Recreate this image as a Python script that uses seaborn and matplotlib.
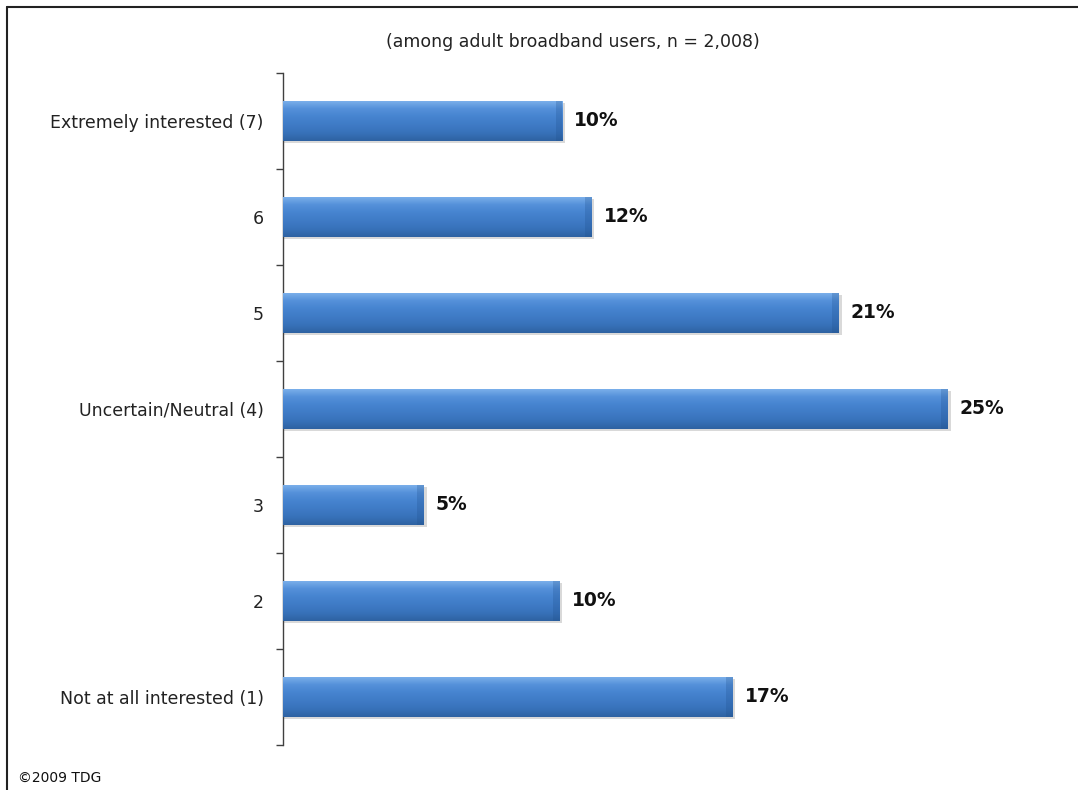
import matplotlib
matplotlib.use("Agg")
import matplotlib.pyplot as plt
import numpy as np
import pandas as pd
import seaborn as sns
from matplotlib.lines import Line2D
from matplotlib.colors import LinearSegmentedColormap

categories = ["Extremely interested (7)", "6", "5", "Uncertain/Neutral (4)",
              "3", "2", "Not at all interested (1)"]
values = [10.5, 11.6, 20.9, 25.0, 5.3, 10.4, 16.9]
value_labels = ["10%", "12%", "21%", "25%", "5%", "10%", "17%"]
title = "(among adult broadband users, n = 2,008)"
credit = "\u00a92009 TDG"

sns.set_theme(style="white")
plt.rcParams['font.family'] = ['DejaVu Sans']

df = pd.DataFrame({"cat": categories, "val": values})

fig = plt.figure(figsize=(10.78, 7.90), dpi=100)
ax = fig.add_axes([283 / 1078, 1 - 745 / 790, 720 / 1078, (745 - 73) / 790])

sns.barplot(data=df, y="cat", x="val", order=categories, orient="h",
            color="#3C78C3", width=0.42, ax=ax, saturation=1, linewidth=0,
            edgecolor="none")

ax.set_xlim(0, 720 / 26.6)
ax.set_ylim(len(categories) - 0.5, -0.5)

grad = np.linspace(0, 1, 64).reshape(-1, 1)
cmap = LinearSegmentedColormap.from_list(
    "bar", ["#7FB2EC", "#5591DA", "#4684D0", "#3F7BC6", "#3872BA", "#2E62A2"])
for p, lab in zip(ax.patches, value_labels):
    x0, y0 = p.get_x(), p.get_y()
    w, h = p.get_width(), p.get_height()
    ax.add_patch(plt.Rectangle((x0, y0 + h * 0.05), w + 0.1, h, color="#000000",
                               alpha=0.15, zorder=1, lw=0))
    p.set_zorder(2)
    im = ax.imshow(grad, extent=[x0, x0 + w, y0 + h, y0], aspect="auto",
                   cmap=cmap, zorder=3, interpolation="bicubic")
    im.set_clip_path(p)
    ax.add_patch(plt.Rectangle((x0 + w - 0.25, y0), 0.25, h, color="#1F4F8C",
                               alpha=0.25, zorder=4, lw=0))
    ax.text(x0 + w + 0.45, y0 + h / 2, lab, va="center", ha="left",
            fontsize=13.5, fontweight="bold", color="#111111")

ax.set_xlabel("")
ax.set_ylabel("")
ax.set_xticks([])
for s in ["top", "right", "bottom"]:
    ax.spines[s].set_visible(False)
ax.spines["left"].set_color("#404040")
ax.spines["left"].set_linewidth(1.0)
ax.set_yticks(range(len(categories)))
ax.set_yticklabels(categories, fontsize=12.5, color="#222222")
ax.set_yticks(np.arange(-0.5, len(categories), 1.0), minor=True)
ax.tick_params(axis="y", which="major", length=0, pad=14)
ax.tick_params(axis="y", which="minor", length=5, width=1, color="#404040",
               direction="out", left=True)

fig.text(573 / 1078, 1 - 42 / 790, title, ha="center", va="center",
         fontsize=12.5, color="#222222")
fig.text(18 / 1078, 1 - 778 / 790, credit, ha="left", va="center",
         fontsize=10, color="#111111", family=["Liberation Sans Narrow", "DejaVu Sans"])

fig.add_artist(Line2D([7 / 1078, 1], [1 - 7 / 790, 1 - 7 / 790],
                      transform=fig.transFigure, color="#222222", lw=1.5))
fig.add_artist(Line2D([7 / 1078, 7 / 1078], [1 - 7 / 790, 0],
                      transform=fig.transFigure, color="#222222", lw=1.5))

fig.savefig("out.png", dpi=100)
